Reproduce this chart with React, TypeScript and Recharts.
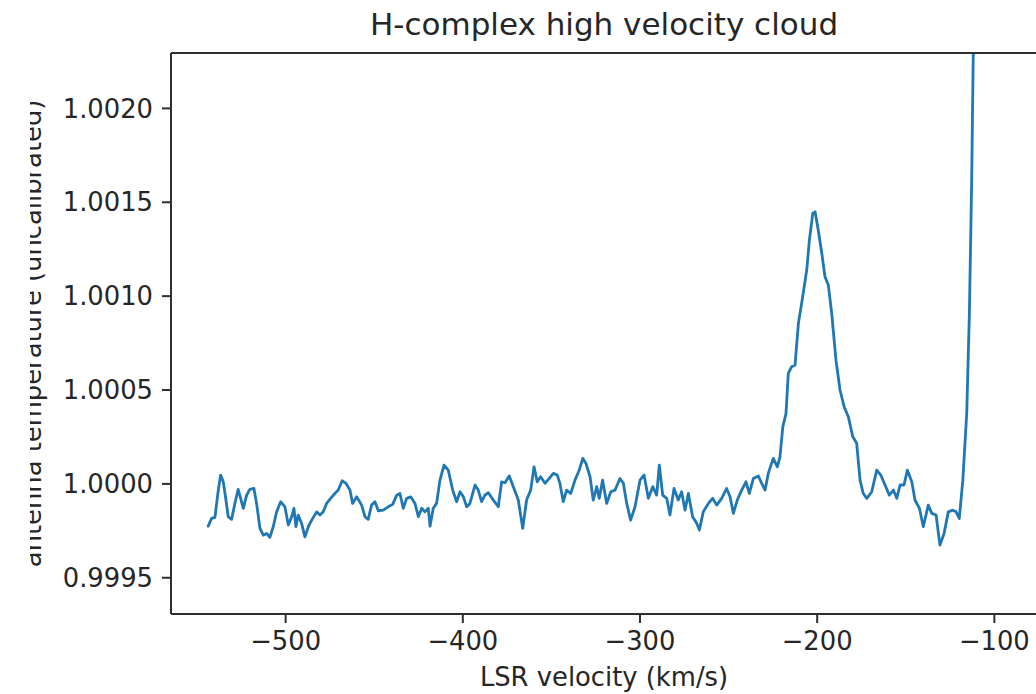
import React from "react";
import { LineChart, Line, XAxis, YAxis, ReferenceLine } from "recharts";

// ---- Data ----
const TITLE = "H-complex high velocity cloud";
const X_LABEL = "LSR velocity (km/s)";
const Y_LABEL = "antenna temperature (uncalibrated)";

const xTicks = [-500, -400, -300, -200, -100];
const yTicks = [0.9995, 1.0, 1.0005, 1.001, 1.0015, 1.002];
const xDomain: [number, number] = [-564.7, -76.5];
const yDomain: [number, number] = [0.999307, 1.002295];

const velocity = [
  -543.7, -541.8, -539.9, -538.0, -536.7, -535.2, -533.7, -532.4, -530.5, -528.6,
  -526.8, -525.4, -523.9, -522.0, -520.2, -517.9, -516.4, -514.5, -512.6, -510.7,
  -508.9, -507.0, -505.1, -502.8, -500.4, -498.5, -496.6, -495.3, -494.2, -492.9,
  -491.0, -489.1, -487.2, -485.3, -482.5, -480.6, -478.8, -476.9, -474.6, -472.2,
  -470.3, -468.1, -466.0, -463.7, -462.2, -459.9, -457.1, -455.2, -453.4, -451.5,
  -449.6, -447.7, -444.9, -442.1, -439.6, -437.3, -435.5, -433.6, -431.7, -429.4,
  -427.0, -425.1, -423.2, -421.4, -419.5, -418.5, -416.7, -414.8, -412.9, -410.6,
  -408.2, -405.7, -403.5, -401.6, -399.7, -397.8, -396.0,
  -393.1, -391.3, -389.4, -387.5, -385.6, -382.8, -380.0, -378.1, -376.2, -373.8,
  -371.5, -368.7, -366.2, -364.0, -361.7, -359.8, -358.0, -356.1, -353.6, -351.2,
  -348.9, -346.7, -345.2, -343.3, -341.4, -339.1, -336.7, -334.3, -332.3, -330.5,
  -328.2, -326.4, -324.4, -323.0, -321.1, -318.8, -316.5, -314.1, -311.3, -309.4,
  -307.5, -305.3, -302.8, -300.0, -297.7, -295.3, -292.8, -290.6, -289.1, -287.2,
  -284.9, -283.1, -280.8, -278.4, -276.5, -274.6, -272.7, -270.3, -268.0, -266.5,
  -264.3, -261.4, -259.0, -256.7, -253.9, -251.1, -249.2, -247.3, -245.1, -242.6,
  -240.2, -238.3, -236.0, -233.2, -231.3, -229.4, -227.6, -224.8, -222.5,
  -221.0, -219.4, -217.6, -216.3, -214.4, -212.5, -210.6, -208.2, -205.9, -204.4,
  -202.5, -201.2, -199.4, -197.4, -195.6, -193.7, -191.8, -189.4, -187.1, -184.8,
  -182.4, -179.9, -177.7, -175.8, -174.0, -172.0, -169.2, -166.4, -164.1, -161.7,
  -159.3, -157.0, -155.1, -153.2, -151.0, -149.1, -146.6, -144.8, -142.3, -140.1,
  -137.3, -135.3, -132.9, -130.7, -128.4, -126.0, -123.5, -121.6, -119.8, -117.8,
  -115.6, -114.1, -112.8, -111.5, -110.4, -109.3, -108.2,
];

const temperature = [
  0.999775, 0.999816, 0.999822, 0.999967, 1.000047, 1.000011, 0.999914, 0.999825, 0.999811, 0.999898,
  0.999971, 0.999923, 0.99987, 0.99994, 0.999971, 0.999976, 0.999896, 0.999763, 0.999727, 0.999736,
  0.999715, 0.999772, 0.999851, 0.999905, 0.999878, 0.999781, 0.999825, 0.99987, 0.999772, 0.999834,
  0.99979, 0.999718, 0.999772, 0.999807, 0.999851, 0.999834, 0.999851, 0.999896, 0.999923, 0.999949,
  0.999967, 1.000017, 1.000003, 0.999967, 0.999896, 0.999931, 0.999887, 0.999825, 0.999811, 0.999887,
  0.999905, 0.999857, 0.99986, 0.999878, 0.999891, 0.99994, 0.999949, 0.99987, 0.999923, 0.999931,
  0.999896, 0.999825, 0.99987, 0.999851, 0.99987, 0.999775, 0.99987, 0.999896, 1.00002, 1.0001,
  1.000073, 0.999967, 0.999905, 0.999958, 0.999931, 0.999878, 0.999896,
  0.999994, 0.999967, 0.999905, 0.99994, 0.999953, 0.999914, 0.999878, 1.000011, 1.000006, 1.000042,
  0.999985, 0.999914, 0.999763, 0.999914, 0.999967, 1.000091, 1.000011, 1.000038, 1.000003, 1.000029,
  1.000056, 1.000047, 1.000003, 0.999905, 0.999967, 0.999949, 1.00002, 1.000073, 1.000136, 1.000109,
  1.000038, 0.999914, 0.999985, 0.999923, 1.00002, 0.999896, 0.999958, 0.999967, 1.000029, 1.000003,
  0.999896, 0.999807, 0.999878, 1.00002, 1.000047, 0.999923, 0.999985, 0.99994, 1.0001, 0.99994,
  0.999923, 0.999834, 0.999976, 0.999914, 0.999958, 0.99986, 0.999949, 0.999825, 0.99979, 0.999754,
  0.999851, 0.999896, 0.999923, 0.999887, 0.999923, 0.999976, 0.999931, 0.999843, 0.999914, 0.999967,
  1.000011, 0.999949, 1.000029, 1.000042, 1.000003, 0.999967, 1.000056, 1.000136, 1.000091,
  1.000144, 1.000304, 1.000375, 1.000589, 1.000624, 1.000633, 1.000855, 1.000996, 1.001139, 1.001298,
  1.001441, 1.001449, 1.001352, 1.001228, 1.001103, 1.001059, 1.000908, 1.000659, 1.0005, 1.000411,
  1.000357, 1.000251, 1.000216, 1.00002, 0.999949, 0.999923, 0.999958, 1.000073, 1.000047, 0.999994,
  0.99994, 0.999967, 0.999923, 0.999994, 0.999994, 1.000073, 1.000011, 0.999914, 0.99987, 0.999772,
  0.999887, 0.999843, 0.999834, 0.999674, 0.999736, 0.999851, 0.99986, 0.999851, 0.999816, 1.00002,
  1.000375, 1.000908, 1.001618, 1.0026, 1.0034, 1.0045, 1.0058,
];

// ---- Styling ----
const FONT = "'DejaVu Sans', sans-serif";
const INK = "#262626";
const SPINE = "#2f2f2f";
const LINE_COLOR = "#1f77b4";
const W = 1036;
const H = 694;

const fmtX = (v: number) => (v < 0 ? "\u2212" + Math.abs(v) : String(v));
const fmtY = (v: number) => v.toFixed(4);

const renderTexts = () => (
  <g>
    <text x={604} y={35} textAnchor="middle" fontSize={31} fill={INK} fontFamily={FONT}>
      {TITLE}
    </text>
    <text x={604} y={686} textAnchor="middle" fontSize={25.8} fill={INK} fontFamily={FONT}>
      {X_LABEL}
    </text>
    <defs>
      <clipPath id="ylabel-clip">
        <rect x={30} y={0} width={40} height={H} />
      </clipPath>
    </defs>
    <g clipPath="url(#ylabel-clip)">
      <text
        x={41}
        y={333.4}
        transform="rotate(-90 41 333.4)"
        textAnchor="middle"
        fontSize={25.8}
        fill={INK}
        fontFamily={FONT}
      >
        {Y_LABEL}
      </text>
    </g>
  </g>
);

export default function App() {
  const data = velocity.map((v, i) => ({ v, t: temperature[i] }));
  return (
    <div
      style={{
        position: "absolute",
        left: 0,
        top: 0,
        width: W,
        height: H,
        background: "#fff",
        overflow: "hidden",
      }}
    >
      <LineChart
        width={W}
        height={H}
        data={data}
        margin={{ top: 53, right: 0, bottom: 0, left: 0 }}
        style={{ fontFamily: FONT }}
      >
        <XAxis
          type="number"
          dataKey="v"
          domain={xDomain}
          allowDataOverflow
          ticks={xTicks}
          interval={0}
          tickFormatter={fmtX}
          height={80}
          tickSize={9}
          tickMargin={9}
          axisLine={{ stroke: SPINE, strokeWidth: 2 }}
          tickLine={{ stroke: SPINE, strokeWidth: 2 }}
          tick={{ fill: INK, fontSize: 25.8, fontFamily: FONT }}
          label={renderTexts}
        />
        <YAxis
          type="number"
          domain={yDomain}
          allowDataOverflow
          ticks={yTicks}
          interval={0}
          tickFormatter={fmtY}
          width={171}
          tickSize={9}
          tickMargin={9}
          axisLine={{ stroke: SPINE, strokeWidth: 2 }}
          tickLine={{ stroke: SPINE, strokeWidth: 2 }}
          tick={{ fill: INK, fontSize: 25.8, fontFamily: FONT }}
        />
        <Line
          type="linear"
          dataKey="t"
          stroke={LINE_COLOR}
          strokeWidth={2.8}
          strokeLinejoin="round"
          strokeLinecap="round"
          dot={false}
          activeDot={false}
          isAnimationActive={false}
        />
        <ReferenceLine y={yDomain[1]} stroke={SPINE} strokeWidth={2} ifOverflow="visible" />
      </LineChart>
    </div>
  );
}
